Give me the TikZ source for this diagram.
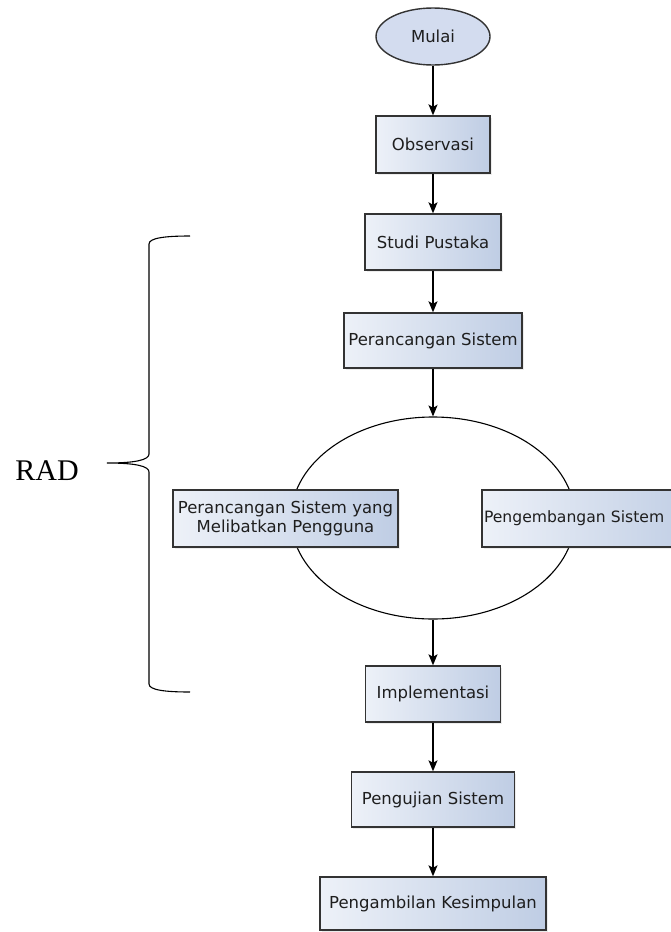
\documentclass[tikz,border=0pt]{standalone}
\usepackage{fontspec}
\setmainfont{DejaVu Sans}
\newfontfamily\radfont{Liberation Serif}
\usetikzlibrary{arrows.meta,shapes.geometric,shadows}
\definecolor{boxleft}{HTML}{EDF1F8}
\definecolor{boxright}{HTML}{BFCDE4}
\definecolor{startfill}{HTML}{D3DCEF}
\definecolor{edgegray}{HTML}{333333}
\definecolor{txt}{HTML}{1E1E1E}
\tikzset{
  flowbox/.style={draw=edgegray, line width=1.4pt, rectangle, inner sep=0pt,
    left color=boxleft, right color=boxright, shading angle=90,
    text=txt, font=\fontsize{16.5}{19.5}\selectfont, align=center,
    drop shadow={opacity=0.15, shadow xshift=1.5pt, shadow yshift=-1.5pt}},
  startnode/.style={draw=edgegray, line width=1.4pt, ellipse, inner sep=0pt,
    fill=startfill, text=txt, font=\fontsize{16.5}{19.5}\selectfont,
    minimum width=114pt, minimum height=57pt},
  flowarrow/.style={draw=black, line width=1.2pt, -{Stealth[length=11pt,width=9pt,inset=2.5pt]}},
}
\begin{document}
\begin{tikzpicture}[x=1pt,y=-1pt]
\useasboundingbox (0,0) rectangle (671,932);
% big ellipse
\node[draw=black, line width=1.1pt, ellipse, minimum width=284pt, minimum height=202pt, inner sep=0pt] (rad) at (433,518) {};
\node[startnode] (mulai) at (433,36.5) {Mulai};
\node[flowbox, minimum width=114pt, minimum height=57pt] (obs) at (433,144.5) {Observasi};
\node[flowbox, minimum width=136pt, minimum height=56pt] (studi) at (433,242) {Studi Pustaka};
\node[flowbox, minimum width=178pt, minimum height=55pt] (peranc) at (433,340.5) {Perancangan Sistem};
\node[flowbox, minimum width=225pt, minimum height=57pt] (libat) at (285.5,518.5) {Perancangan Sistem yang\\Melibatkan Pengguna};
\node[flowbox, minimum width=218pt, minimum height=57pt, text width=214pt, align=left, font=\fontsize{15.6}{19}\selectfont] (kembang) at (591,518.5) {Pengembangan Sistem};
\node[flowbox, minimum width=135pt, minimum height=56pt] (impl) at (433,694) {Implementasi};
\node[flowbox, minimum width=163pt, minimum height=55pt] (uji) at (433,799.5) {Pengujian Sistem};
\node[flowbox, minimum width=226pt, minimum height=53pt] (ambil) at (433,903.5) {Pengambilan Kesimpulan};
% arrows
\draw[flowarrow] (mulai.south) -- (obs.north);
\draw[flowarrow] (obs.south) -- (studi.north);
\draw[flowarrow] (studi.south) -- (peranc.north);
\draw[flowarrow] (peranc.south) -- (rad.north);
\draw[flowarrow] (rad.south) -- (impl.north);
\draw[flowarrow] (impl.south) -- (uji.north);
\draw[flowarrow] (uji.south) -- (ambil.north);
% brace and label
\node[font=\radfont\fontsize{30}{34}\selectfont, inner sep=0pt] (radlabel) at (47,471) {RAD};
\coordinate (bracetip) at (107,463);
\draw[line width=1.1pt] (190,236) .. controls (165,236) and (149,238) .. (149,244)
  -- (149,454) .. controls (149,460) and (135,463) .. (bracetip)
  .. controls (135,463) and (149,466) .. (149,472)
  -- (149,684) .. controls (149,690) and (165,692) .. (190,692);
\end{tikzpicture}
\end{document}
